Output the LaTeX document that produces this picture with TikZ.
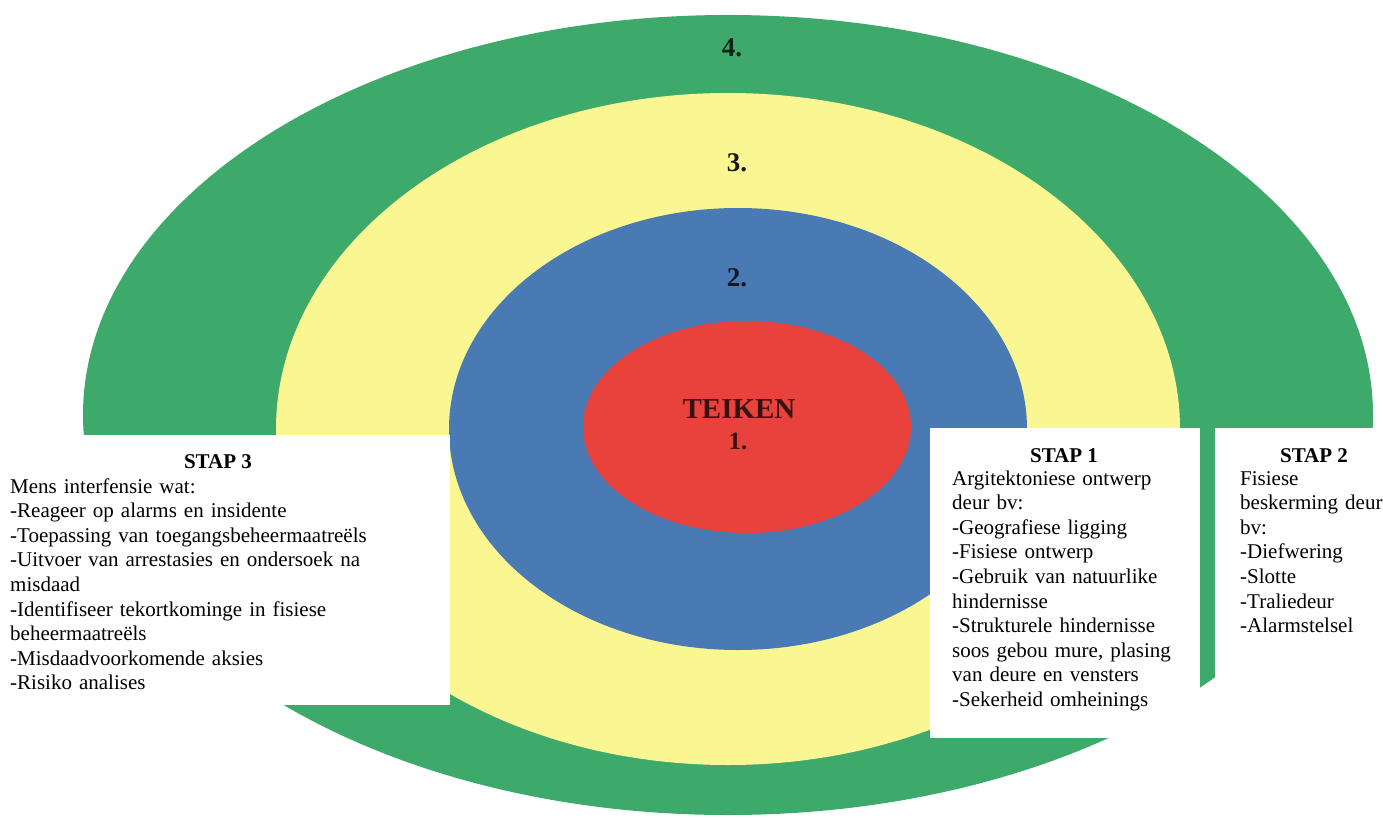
\documentclass[tikz,border=0pt]{standalone}
\usepackage{fontspec}
\setmainfont{Liberation Serif}
\usetikzlibrary{positioning}
\definecolor{ringgreen}{RGB}{61,170,108}
\definecolor{ringyellow}{RGB}{250,246,146}
\definecolor{ringblue}{RGB}{74,122,180}
\definecolor{ringred}{RGB}{233,66,60}
\definecolor{teikentext}{RGB}{55,18,18}
\tikzset{
	stapbox/.style={fill=white},
	staphead/.style={font=\fontsize{21}{24.6}\selectfont\bfseries, anchor=base, inner sep=0},
	staptext/.style={font=\fontsize{21}{24.6}\selectfont, anchor=base west, inner sep=0, align=left, text width=460pt},
	ringnum/.style={font=\fontsize{27}{30}\selectfont\bfseries, anchor=base, inner sep=0}
}

\begin{document}
\begin{tikzpicture}[x=1pt, y=-1pt]
		%%%%% START %%%%%
		
		\useasboundingbox (0, 0) rectangle (1383, 818);
		\fill[white] (0, 0) rectangle (1383, 818);
		
		\fill[ringgreen] (728, 415) ellipse [x radius=645, y radius=400];
		\fill[ringyellow] (728, 429) ellipse [x radius=452, y radius=336];
		\fill[ringblue] (738, 429) ellipse [x radius=289, y radius=221];
		\fill[ringred] (747, 427) ellipse [x radius=164, y radius=106];
		
		\node[ringnum, text=black!80!ringgreen] (vier) at (732, 57) {4.};
		\node[ringnum, text=black!90!ringyellow] (drie) at (737, 172) {3.};
		\node[ringnum, text=black!80!ringblue] (twee) at (737, 286) {2.};
		
		\node[font=\fontsize{29}{32}\selectfont\bfseries, text=teikentext, anchor=base, inner sep=0] (teiken) at (739, 418) {TEIKEN};
		\node[font=\fontsize{25}{28}\selectfont\bfseries, text=teikentext, anchor=base, inner sep=0] (een) at (738, 449) {1.};
		
		\fill[stapbox] (0, 435) rectangle (450, 705);
		\fill[stapbox] (930, 428) rectangle (1200, 738);
		\fill[stapbox] (1215, 428) rectangle (1383, 745);
		
		\node[staphead] (stap3) at (218, 468) {STAP 3};
		\node[staptext] (stap3txt) at (10, 493) {Mens interfensie wat:\\-Reageer op alarms en insidente\\-Toepassing van toegangsbeheermaatreëls\\-Uitvoer van arrestasies en ondersoek na\\misdaad\\-Identifiseer tekortkominge in fisiese\\beheermaatreëls\\-Misdaadvoorkomende aksies\\-Risiko analises};
		
		\node[staphead] (stap1) at (1064, 462) {STAP 1};
		\node[staptext] (stap1txt) at (952, 485) {Argitektoniese ontwerp\\deur bv:\\-Geografiese ligging\\-Fisiese ontwerp\\-Gebruik van natuurlike\\hindernisse\\-Strukturele hindernisse\\soos gebou mure, plasing\\van deure en vensters\\-Sekerheid omheinings};
		
		\node[staphead] (stap2) at (1314, 462) {STAP 2};
		\node[staptext] (stap2txt) at (1240, 485) {Fisiese\\beskerming deur\\bv:\\-Diefwering\\-Slotte\\-Traliedeur\\-Alarmstelsel};
		
		%%%%% END %%%%%
	\end{tikzpicture}
\end{document}
